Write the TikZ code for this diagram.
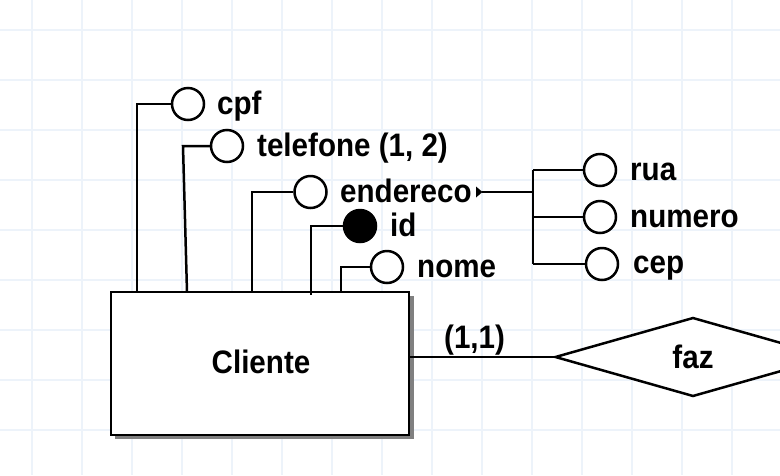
\documentclass[tikz,border=0pt]{standalone}
\usepackage{fontspec}
\setmainfont{Liberation Sans}[FakeStretch=0.91]
\usetikzlibrary{shapes.geometric,calc}
\definecolor{gridc}{HTML}{EDF3FA}
\definecolor{shadowc}{HTML}{808080}
\begin{document}
\begin{tikzpicture}[x=1pt,y=-1pt,
  conn/.style={line width=2.5pt, black},
  attr/.style={circle, draw, line width=2.5pt, fill=white, minimum size=32pt, inner sep=0pt},
  keyattr/.style={attr, fill=black},
  lbl/.style={anchor=base west, inner sep=0pt, font=\fontsize{32.5}{36}\selectfont\bfseries},
  entbox/.style={draw, line width=2.5pt, fill=white, minimum width=298pt, minimum height=143pt, inner sep=0pt},
  relbox/.style={diamond, draw, line width=2.5pt, fill=white, minimum width=276pt, minimum height=79pt, inner sep=0pt}
]
\useasboundingbox (0,0) rectangle (780,475);
\clip (0,0) rectangle (780,475);
\fill[white] (0,0) rectangle (780,475);
% grid
\foreach \gx in {31.5,81.5,...,781.5} \draw[gridc, line width=2pt] (\gx,0) -- (\gx,475);
\foreach \gy in {30,80,...,430} \draw[gridc, line width=2pt] (0,\gy) -- (780,\gy);

% entity with shadow
\fill[shadowc] (115,296) rectangle (414,439);
\node[entbox] (ent) at (260,363.5) {};
\node[lbl, anchor=base] (entl) at (261,373) {Cliente};

% attributes
\node[attr] (cpfc) at (188,104) {};
\node[lbl] (cpft) at (217,114) {cpf};
\node[attr] (telc) at (227,146) {};
\node[lbl] (telt) at (257,156) {telefone (1, 2)};
\node[attr] (endc) at (310.5,192) {};
\node[lbl] (endt) at (340,202) {endereco};
\node[keyattr] (idc) at (360,226) {};
\node[lbl] (idt) at (390,236) {id};
\node[attr] (nomc) at (387,267) {};
\node[lbl] (nomt) at (417,277) {nome};

\coordinate (e1) at (137,292);
\coordinate (e2) at (187,292);
\coordinate (b2) at (183,146);
\coordinate (e3) at (252,292);
\coordinate (e4) at (311,295);
\coordinate (e5) at (341,292);
\draw[conn] (cpfc.west) -| (e1);
\draw[conn] (telc.west) -- (b2) -- (e2);
\draw[conn] (endc.west) -| (e3);
\draw[conn] (idc.west) -| (e4);
\draw[conn] (nomc.west) -| (e5);

% composite attribute
\node[attr] (ruac) at (600,170) {};
\node[lbl] (ruat) at (630,180) {rua};
\node[attr] (numc) at (600,217) {};
\node[lbl] (numt) at (630,227.5) {numero};
\node[attr] (cepc) at (602,264) {};
\node[lbl] (cept) at (633,273) {cep};
\coordinate (tri) at (476,192);
\coordinate (fork) at (533,192);
\coordinate (forkt) at (533,170);
\coordinate (forkb) at (533,264);
\fill[black] (tri) ++(0,-5.5) -- ++(6.5,5.5) -- ++(-6.5,5.5) -- cycle;
\draw[conn] ($(tri)+(6,0)$) -- (fork);
\draw[conn] (forkt) -- (forkb);
\draw[conn] (forkt) -- (ruac.west);
\draw[conn] (fork |- numc) -- (numc.west);
\draw[conn] (forkb) -- (cepc.west);

% relationship
\node[relbox] (rel) at (693,357) {};
\node[lbl, anchor=base] (relt) at (693,368) {faz};
\coordinate (e6) at (410,357);
\draw[conn] (e6) -- (rel.west);
\node[lbl] (card) at (444,348) {(1,1)};
\end{tikzpicture}
\end{document}
